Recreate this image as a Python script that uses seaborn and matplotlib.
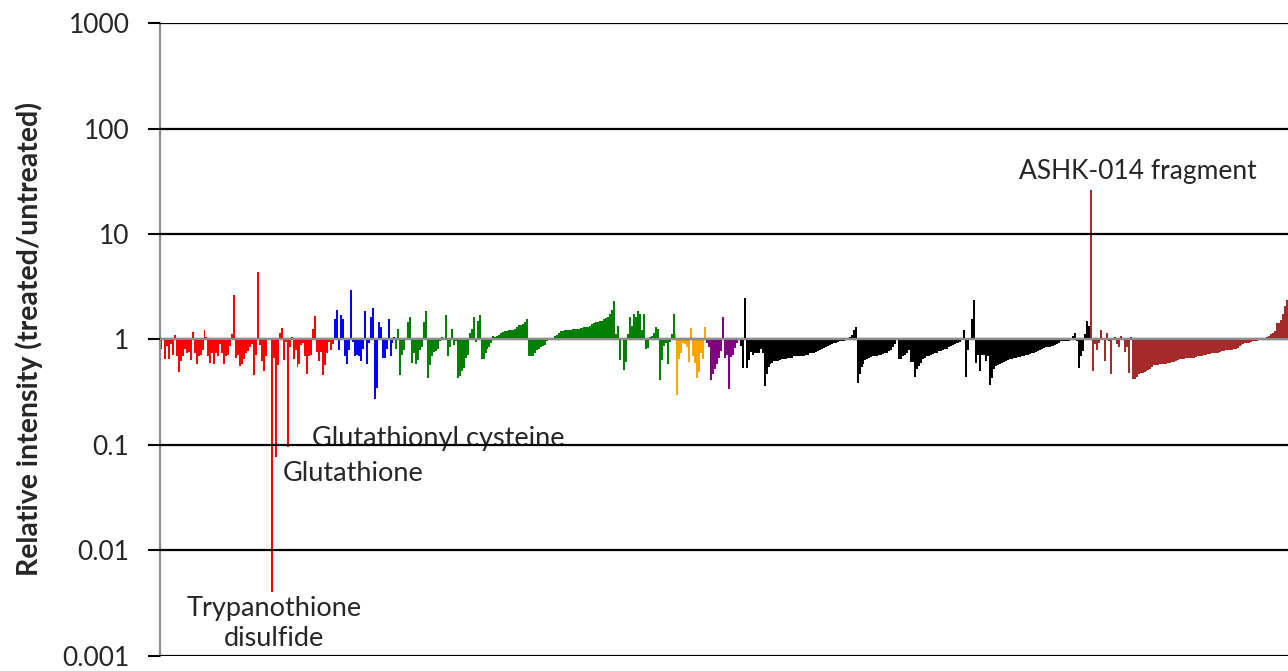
import numpy as np
import pandas as pd
import matplotlib
matplotlib.use('Agg')
import matplotlib.pyplot as plt
from matplotlib.ticker import NullLocator
import seaborn as sns

# treated/untreated ratio per metabolite, grouped by pathway colour
red = [0.82, 1.04, 0.66, 0.87, 0.65, 0.90, 0.72, 1.10, 0.69, 0.49,
       0.62, 0.70, 0.82, 0.74, 0.76, 0.64, 1.18, 0.74, 0.59, 0.70,
       0.71, 0.79, 1.23, 1.06, 0.69, 0.60, 0.74, 0.58, 0.74, 0.70,
       0.90, 0.74, 0.59, 0.69, 0.71, 0.87, 1.12, 2.63, 0.67, 0.71,
       0.56, 0.59, 0.66, 0.74, 0.78, 0.85, 0.90, 0.46, 0.71, 4.4,
       0.88, 0.62, 0.50, 0.69, 0.98, 1.04, 0.004, 0.67, 0.077, 0.57,
       1.14, 1.29, 0.64, 0.95, 0.096, 0.85, 1.06, 0.66, 0.79, 0.55,
       0.58, 0.88, 0.92, 0.69, 0.47, 0.69, 0.71, 1.25, 1.68, 0.76,
       0.62, 0.76, 0.46, 0.57, 0.74, 0.95, 0.79, 0.90]
blue = [1.58, 1.90, 0.79, 1.72, 1.58, 0.69, 0.58, 0.79, 2.93, 0.95,
        0.70, 0.72, 0.70, 0.62, 0.82, 1.86, 0.58, 0.92, 1.64, 2.0,
        0.27, 0.35, 1.47, 1.32, 0.67, 0.67, 0.82, 1.56, 0.70, 0.92, 1.06]
green = [0.82, 1.27, 0.46, 0.71, 0.79, 1.04, 1.45, 1.62, 0.60, 0.74,
         0.58, 0.64, 0.79, 0.85, 1.47, 1.86, 0.43, 0.57, 0.69, 0.76,
         0.78, 0.82, 0.96, 1.06, 1.04, 1.70, 0.69, 0.85, 1.25, 0.88,
         0.96, 0.43, 0.45, 0.50, 0.54, 0.67, 0.72, 1.14, 1.25, 1.62,
         0.94, 1.49, 1.70, 0.65, 0.65, 0.75, 0.81, 0.84, 0.92, 1.08,
         1.05, 1.08, 1.11, 1.15, 1.18, 1.20, 1.21, 1.23, 1.23, 1.24,
         1.27, 1.32, 1.37, 1.37, 1.41, 1.45, 1.56, 0.69, 0.69, 0.70,
         0.75, 0.79,
         0.81, 0.84, 0.86, 0.88, 0.96, 1.00, 1.04, 1.02, 1.07, 1.10,
         1.16, 1.20, 1.21, 1.23, 1.23, 1.23, 1.23, 1.25, 1.25, 1.26,
         1.27, 1.29, 1.29, 1.31, 1.31, 1.32, 1.35, 1.39, 1.42, 1.45,
         1.47, 1.49, 1.51, 1.56, 1.60, 1.65, 1.75, 1.92, 2.31, 1.12,
         1.33, 0.64, 1.02, 0.51, 0.61, 1.12, 1.65, 1.35, 1.73, 1.65,
         1.86, 1.75, 1.23, 1.75, 0.81, 0.83, 1.06, 1.08, 1.14, 1.32,
         1.27, 0.41, 0.64, 0.87, 0.92, 0.58, 0.94, 1.12, 1.73]
orange = [1.12, 0.30, 0.66, 0.74, 0.93, 0.90, 0.85, 0.61, 1.29, 0.70,
          0.60, 0.43, 0.49, 0.75, 0.65, 1.32]
purple = [0.92, 0.85, 0.41, 0.47, 0.53, 0.58, 0.67, 0.78, 1.64, 0.67,
          0.71, 0.34, 0.68, 0.71, 0.83, 0.92, 1.04]
black = [0.87, 0.54, 2.48, 0.54, 0.64, 0.76, 0.71, 0.74, 0.74, 0.74,
         0.82, 0.74, 0.36, 0.47, 0.55, 0.59, 0.60, 0.62, 0.62, 0.62,
         0.64, 0.65, 0.65, 0.66, 0.67, 0.67, 0.67, 0.69, 0.69, 0.69,
         0.69, 0.70, 0.70, 0.71, 0.72, 0.74, 0.74,
         0.75, 0.76, 0.77, 0.79, 0.81, 0.83, 0.85, 0.86, 0.88, 0.90,
         0.92, 0.93, 0.94, 0.96, 0.96, 0.97, 1.04, 1.03, 1.06, 1.10,
         1.24, 1.32,
         0.39, 0.47, 0.55, 0.58, 0.64, 0.66, 0.67, 0.68, 0.69, 0.69,
         0.69, 0.71, 0.72, 0.73, 0.74, 0.75, 0.78, 0.80, 0.85, 0.90, 1.03,
         0.65, 0.66, 0.69, 0.72, 0.75, 0.79, 0.61, 0.61, 0.44, 0.53,
         0.56, 0.60, 0.66, 0.67, 0.69, 0.70, 0.71, 0.73, 0.74, 0.75,
         0.77, 0.78, 0.80, 0.81, 0.82, 0.84, 0.86, 0.89, 0.91, 0.92,
         0.93, 0.95, 1.04, 1.24, 0.44, 0.79, 1.04, 1.57, 2.39,
         0.60, 0.72, 0.50, 0.72, 0.72, 0.63, 0.69, 0.37, 0.43, 0.53,
         0.56, 0.57, 0.59, 0.60, 0.61, 0.63, 0.64, 0.65, 0.66, 0.67,
         0.67, 0.68, 0.68, 0.69, 0.70, 0.71, 0.72, 0.73,
         0.74, 0.75, 0.76, 0.78, 0.80, 0.82, 0.83, 0.84, 0.84, 0.85,
         0.86, 0.87, 0.89, 0.90, 0.93, 0.96, 0.96, 0.96, 0.97, 0.96,
         1.01, 1.07, 1.14, 0.96, 0.54, 0.69, 0.78, 1.12, 1.49, 1.34]
brown = [26.4, 0.50, 0.90, 0.80, 0.93, 1.23, 0.99, 0.62, 1.14, 0.97,
         0.47, 0.99, 1.06, 0.90, 0.85, 1.09, 1.04, 0.76, 0.85, 0.48,
         1.06, 0.42, 0.42, 0.44, 0.47, 0.48, 0.48, 0.49, 0.50, 0.51,
         0.53, 0.55, 0.57, 0.57, 0.57, 0.58, 0.58, 0.59, 0.59, 0.60,
         0.60, 0.61, 0.61, 0.62, 0.64, 0.65, 0.66, 0.66, 0.67, 0.67,
         0.67, 0.67, 0.67, 0.68, 0.69, 0.69, 0.69, 0.71, 0.72, 0.73,
         0.73, 0.74, 0.74, 0.75, 0.75, 0.76, 0.77, 0.78, 0.79, 0.79,
         0.80, 0.80, 0.82, 0.82, 0.83, 0.87, 0.88, 0.91, 0.92, 0.93,
         0.93, 0.94, 0.96, 0.96, 0.97, 1.01, 1.01, 1.02, 1.03, 1.05,
         1.09, 1.12, 1.14, 1.21, 1.42, 1.44, 1.54, 1.73, 2.07, 2.39]

groups = ['red', 'blue', 'green', 'orange', 'purple', 'black', 'brown']
colors = ['#FF0000', '#0000FF', '#008000', '#FFA500', '#800080', '#000000', '#A52A2A']
yticks = [0.001, 0.01, 0.1, 1, 10, 100, 1000]
ytick_labels = ['0.001', '0.01', '0.1', '1', '10', '100', '1000']

rows = []
for g, vals in zip(groups, [red, blue, green, orange, purple, black, brown]):
    for v in vals:
        rows.append((g, v))
df = pd.DataFrame(rows, columns=['group', 'ratio'])
df['idx'] = np.arange(len(df))
df['height'] = df['ratio'] - 1  # bars hang from the 1 line

sns.set_style('white')
plt.rcParams['font.family'] = ['Lato', 'DejaVu Sans']

fig = plt.figure(figsize=(12.88, 6.71), dpi=100)
ax = fig.add_axes([0.1242, 0.0224, 0.8758, 0.9433])

sns.barplot(data=df, x='idx', y='height', hue='group', hue_order=groups,
            palette=dict(zip(groups, colors)), saturation=1, dodge=False,
            width=1.0, bottom=1, linewidth=0, antialiased=False,
            errorbar=None, legend=False, ax=ax)

ax.set_yscale('log')
ax.set_ylim(0.001, 1000)
ax.set_xlim(-0.5, len(df) - 0.5)
ax.set_yticks(yticks)
ax.set_yticklabels(ytick_labels)
ax.yaxis.set_minor_locator(NullLocator())
ax.set_xticks([])
ax.set_xlabel('')
ax.set_ylabel('Relative intensity (treated/untreated)', fontsize=20.5,
              fontweight='bold', labelpad=14)

ax.grid(axis='y', color='black', linewidth=1.6)
ax.grid(axis='x', visible=False)
ax.set_axisbelow(False)
ax.axhline(1, color='#8c8c8c', linewidth=1.6, zorder=4)

for s in ['top', 'right', 'bottom']:
    ax.spines[s].set_visible(False)
ax.spines['left'].set_color('#8c8c8c')
ax.spines['left'].set_linewidth(1.6)
ax.tick_params(axis='y', which='major', left=True, length=9, width=1.5,
               color='black', labelsize=19, pad=13)
ax.yaxis.get_major_ticks()[3].tick1line.set_color('#8c8c8c')

ax.text(0.867, 0.766, 'ASHK-014 fragment', transform=ax.transAxes,
        ha='center', va='center', fontsize=19, zorder=1)
ax.text(0.1348, 0.344, 'Glutathionyl cysteine', transform=ax.transAxes,
        ha='left', va='center', fontsize=19.5, zorder=1)
ax.text(0.109, 0.289, 'Glutathione', transform=ax.transAxes,
        ha='left', va='center', fontsize=19.5, zorder=1)
ax.text(0.101, 0.052, 'Trypanothione\ndisulfide', transform=ax.transAxes,
        ha='center', va='center', fontsize=19.5, linespacing=1.25, zorder=1)

fig.savefig('out.png', dpi=100)
